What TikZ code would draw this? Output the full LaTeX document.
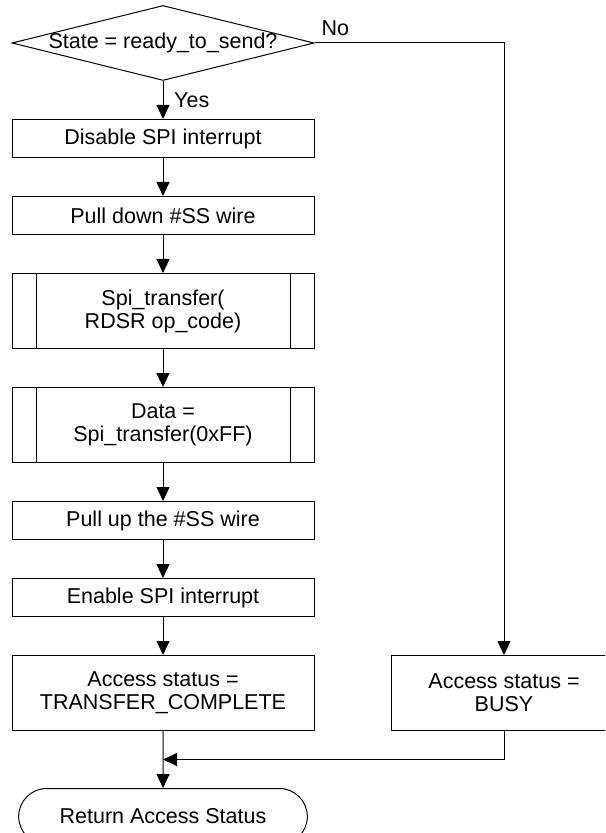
\documentclass[tikz,border=0pt]{standalone}
\usepackage{fontspec}
\setmainfont{Liberation Sans}
\usepackage{tikz}
\usetikzlibrary{arrows.meta,positioning,shapes.geometric,shapes.misc,calc}

\begin{document}
\begin{tikzpicture}[
    font=\fontsize{10.75pt}{11.5pt}\selectfont,
    line width=0.5pt, node distance=19pt,
    procbox/.style={draw, rectangle, minimum width=151pt, minimum height=19pt,
                    inner sep=0pt, align=center},
    subbox/.style={procbox, minimum height=37.5pt,
      path picture={\draw ([xshift=12pt]path picture bounding box.north west)
                          -- ([xshift=12pt]path picture bounding box.south west)
                          ([xshift=-12pt]path picture bounding box.north east)
                          -- ([xshift=-12pt]path picture bounding box.south east);}},
    decbox/.style={draw, diamond, shape aspect=4, inner sep=-1.5pt,
                   minimum width=151pt, minimum height=37.5pt},
    termbox/.style={draw, rounded rectangle, minimum width=151pt, minimum height=28pt},
    arr/.style={-{Triangle[length=7pt,width=6.5pt]}}
  ]
  \path[use as bounding box, clip] (0,0) rectangle (302.5pt,-416.5pt);

  % main column
  \node[decbox] (dec) at (81.5pt,-21.5pt) {State = ready\_to\_send?};
  \node[procbox, below=of dec] (dis) {Disable SPI interrupt};
  \node[procbox, below=of dis] (pulldn) {Pull down \#SS wire};
  \node[subbox, below=of pulldn] (rdsr) {Spi\_transfer(\\RDSR op\_code)};
  \node[subbox, below=of rdsr] (rdata) {Data =\\Spi\_transfer(0xFF)};
  \node[procbox, below=of rdata] (pullup) {Pull up the \#SS wire};
  \node[procbox, below=of pullup] (ena) {Enable SPI interrupt};
  \node[procbox, minimum height=37.5pt, below=of ena] (done)
       {Access status =\\TRANSFER\_COMPLETE};
  \node[termbox, below=28.5pt of done] (ret) {Return Access Status};

  % busy branch
  \node[procbox, minimum width=113pt, minimum height=37.5pt, right=38pt of done] (busy)
       {Access status =\\BUSY};

  \draw[arr] (dec) -- (dis) node[midway, right, xshift=2pt] (yes) {Yes};
  \foreach \a/\b in {dis/pulldn, pulldn/rdsr, rdsr/rdata, rdata/pullup, pullup/ena, ena/done}
    \draw[arr] (\a) -- (\b);
  \draw[arr] (dec.east) -| (busy.north) node[pos=0, above right] (no) {No};

  \coordinate (join) at ($(done.south)!0.5!(ret.north)$);
  \draw[arr] (busy.south) |- (join);
  \draw[arr] (done) -- (ret);
\end{tikzpicture}
\end{document}
